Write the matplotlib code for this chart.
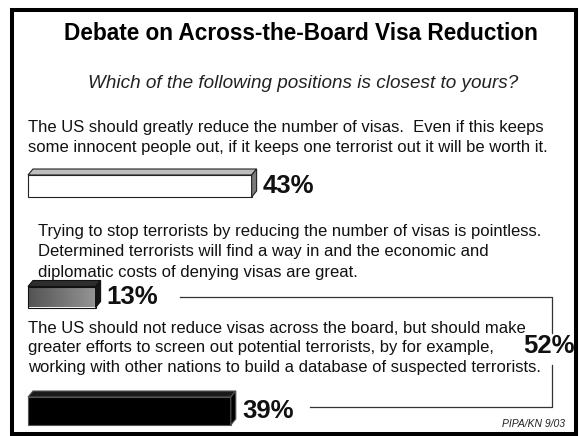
import numpy as np
import matplotlib
matplotlib.use("Agg")
import matplotlib.pyplot as plt
from matplotlib.patches import Polygon, Rectangle

plt.rcParams["font.family"] = ["Liberation Sans", "DejaVu Sans"]

TITLE = "Debate on Across-the-Board Visa Reduction"
QUESTION = "Which of the following positions is closest to yours?"
POSITIONS = [
    ["The US should greatly reduce the number of visas.  Even if this keeps",
     "some innocent people out, if it keeps one terrorist out it will be worth it."],
    ["Trying to stop terrorists by reducing the number of visas is pointless.",
     "Determined terrorists will find a way in and the economic and",
     "diplomatic costs of denying visas are great."],
    ["The US should not reduce visas across the board, but should make",
     "greater efforts to screen out potential terrorists, by for example,",
     "working with other nations to build a database of suspected terrorists."],
]
VALUES = [43, 13, 39]
COMBINED = 52          # 13% + 39%
SOURCE = "PIPA/KN 9/03"

W, H = 579, 436
K = 5.2                # px per percent
X0 = 28                # px where 0% sits

# layout (pixels)
TEXT_X = [28, 38, 28]
TEXT_Y = [127, 231, 328]   # centre of first line
LINE_GAP = [20.5, 20.5, 19.5]
BAR_Y = [186, 297, 411]
BAR_H = [22, 21, 28]
DEPTH = 5              # px, 3d offset

fig = plt.figure(figsize=(W / 100, H / 100), dpi=100)
ax = fig.add_axes([0, 0, 1, 1])
ax.set_xlim(0, W)
ax.set_ylim(H, 0)
ax.axis("off")

axb = fig.add_axes([0, 0, 1, 1])
axb.set_xlim(-X0 / K, (W - X0) / K)
axb.set_ylim(H, 0)
axb.axis("off")
axb.patch.set_alpha(0)

# frame
ax.add_patch(Rectangle((12, 10), 564, 423.5, fill=False, lw=2.9, ec="black"))

ax.text(301, 33, TITLE, ha="center", va="center", fontsize=16.3, fontweight="bold")
ax.text(303, 84, QUESTION, ha="center", va="center", fontsize=13.6, style="italic",
        color="#222222")
for lines, x, y, gap in zip(POSITIONS, TEXT_X, TEXT_Y, LINE_GAP):
    for i, ln in enumerate(lines):
        ax.text(x, y + i * gap, ln, ha="left", va="center", fontsize=12,
                color="#111111")

# bars
styles = [
    dict(front="white", top="#bdbdbd", side="#7a7a7a", edge="#222222"),
    dict(front=None, top="#2e2e2e", side="#151515", edge="#111111"),
    dict(front="black", top="#1a1a1a", side="black", edge="#555555"),
]
dx = DEPTH / K
dy = 6
for v, yc, h, st in zip(VALUES, BAR_Y, BAR_H, styles):
    ytop, ybot = yc - h / 2, yc + h / 2
    if st["front"] is None:
        grad = np.linspace(0.33, 0.58, 64)[None, :]
        axb.imshow(grad, cmap="gray", vmin=0, vmax=1, aspect="auto",
                   extent=[0, v, ybot, ytop], zorder=2)
        axb.barh(yc, v, height=h, left=0, color="none", edgecolor=st["edge"],
                 lw=0.8, zorder=3)
    else:
        axb.barh(yc, v, height=h, left=0, color=st["front"], edgecolor=st["edge"],
                 lw=0.8, zorder=3)
    axb.add_patch(Polygon([(0, ytop), (dx, ytop - dy), (v + dx, ytop - dy), (v, ytop)],
                          closed=True, fc=st["top"], ec=st["edge"], lw=0.8, zorder=3))
    axb.add_patch(Polygon([(v, ytop), (v + dx, ytop - dy), (v + dx, ybot - dy), (v, ybot)],
                          closed=True, fc=st["side"], ec=st["edge"], lw=0.8, zorder=3))
    axb.text(v + dx + 1.2, yc, f"{v}%", ha="left", va="center", fontsize=18.5,
             fontweight="bold", color="#111111")

# bracket joining the two "don't reduce" answers
lc = "#333333"
ax.plot([180, 552, 552], [297, 297, 333], color=lc, lw=0.9)
ax.plot([310, 552, 552], [407, 407, 365], color=lc, lw=0.9)
ax.text(549, 346, f"{COMBINED}%", ha="center", va="center", fontsize=18.5,
        fontweight="bold", color="#111111")

ax.text(565, 424, SOURCE, ha="right", va="center", fontsize=7.5, style="italic",
        color="#222222")

fig.savefig("out.png", dpi=100, facecolor="white")
